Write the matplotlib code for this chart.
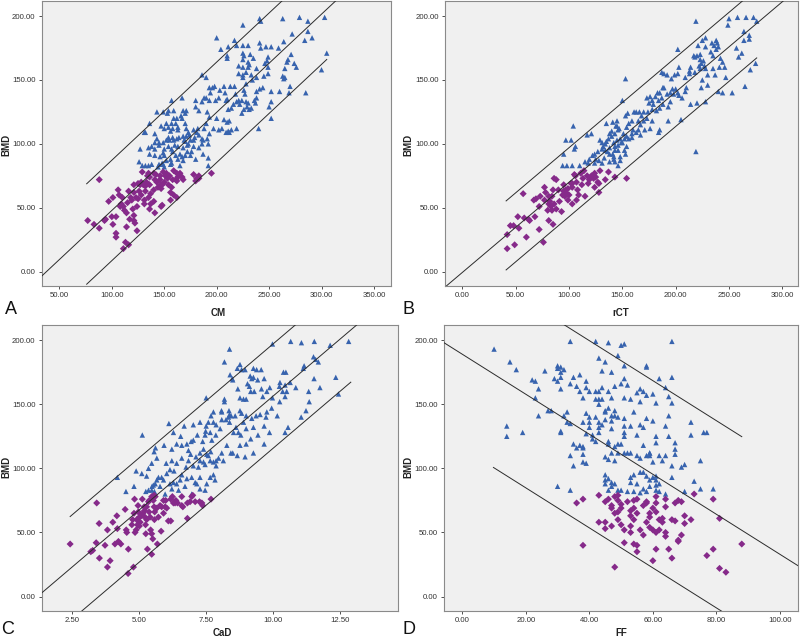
import numpy as np
import matplotlib
matplotlib.use("Agg")
import matplotlib.pyplot as plt
from matplotlib.ticker import FormatStrFormatter

plt.rcParams['font.family'] = ['Liberation Sans', 'DejaVu Sans']

# ---------------- Panel A: CM vs BMD ----------------
a_blue = [(241,198),(242,196),(225,193),(263,198),(279,199),(303,199),(287,196),(287,188),(284,181),(291,183),(272,186),(200,183),(217,181),(204,174),(211,176),(219,177),(225,177),(230,177),(241,179),(242,175),(247,176),(252,176),(259,175),(264,180),(210,169),(210,167),(225,171),(226,169),(232,170),(225,166),(230,164),(235,167),(271,170),(268,166),(267,164),(274,163),(276,160),(249,168),(248,165),(246,163),(231,162),(221,161),(225,160),(230,160),(238,159),(249,160),(228,156),(221,155),(225,154),(233,154),(225,152),(249,155),(238,152),(245,153),(265,159),(263,153),(265,152),(300,158),(305,171),(285,140),(269,140),(260,141),(270,145),(264,151),(190,152),(186,154),(196,144),(193,144),(198,145),(203,142),(194,140),(188,136),(190,136),(186,133),(193,134),(183,126),(202,136),(199,134),(210,135),(217,145),(213,145),(207,145),(208,140),(209,134),(218,139),(221,134),(224,134),(226,142),(227,139),(219,133),(222,131),(228,133),(229,129),(236,134),(238,136),(238,141),(241,143),(244,144),(252,141),(252,133),(250,129),(252,120),(240,112),(224,124),(226,127),(231,127),(233,128),(230,132),(237,132),(228,147),(234,150),(216,131),(214,128),(211,127),(207,119),(210,117),(212,118),(212,109),(209,109),(211,110),(214,111),(219,112),(205,112),(202,111),(197,112),(200,120),(191,125),(193,121),(190,116),(188,112),(182,112),(181,109),(183,107),(186,104),(187,103),(186,100),(192,100),(191,104),(193,108),(179,105),(178,103),(173,100),(169,103),(178,98),(183,97),(187,92),(192,89),(192,83),(180,88),(172,94),(170,91),(167,90),(168,87),(163,98),(160,99),(162,104),(164,105),(158,105),(158,112),(154,113),(152,116),(150,112),(159,120),(161,116),(163,111),(170,116),(171,112),(173,109),(174,107),(167,120),(166,122),(170,124),(171,126),(168,126),(162,120),(159,126),(167,136),(180,134),(180,129),(149,125),(143,125),(147,114),(157,134),(154,126),(153,124),(163,113),(154,105),(155,103),(152,103),(149,101),(145,101),(145,99),(141,101),(141,96),(141,91),(146,90),(149,93),(150,91),(156,88),(152,87),(150,82),(156,84),(158,94),(157,96),(161,91),(163,88),(165,92),(141,108),(136,92),(135,97),(138,98),(143,104),(145,84),(149,84),(131,109),(127,96),(126,86),(129,83),(132,83),(135,83),(138,84),(136,116),(132,109),(156,110),(157,116),(172,99),(168,97),(170,102),(178,111),(168,106),(159,103),(154,98),(150,96),(175,103),(171,106),(175,91),(157,85),(165,83),(176,94),(148,85),(144,82)]
a_purple = [(88,72),(77,40),(83,37),(88,34),(93,40),(94,41),(97,55),(101,58),(100,43),(101,37),(104,43),(104,30),(104,27),(106,64),(107,60),(108,51),(109,53),(111,51),(112,48),(110,58),(111,18),(113,23),(116,21),(114,35),(117,41),(114,46),(115,54),(116,63),(118,58),(119,56),(120,49),(121,44),(121,40),(122,38),(124,32),(124,51),(121,68),(121,62),(123,58),(125,69),(127,68),(126,63),(128,60),(128,70),(129,78),(131,56),(131,53),(132,63),(132,67),(133,70),(134,75),(135,58),(135,77),(136,74),(136,68),(137,61),(137,53),(140,64),(140,77),(141,72),(141,46),(142,76),(143,70),(144,66),(146,75),(146,72),(147,68),(147,65),(148,68),(149,78),(150,70),(151,75),(148,52),(152,77),(153,73),(154,68),(155,75),(157,66),(158,72),(159,79),(161,72),(162,77),(162,71),(163,74),(165,77),(167,74),(168,72),(156,56),(156,62),(162,58),(136,49),(147,51),(125,57),(178,76),(180,71),(181,73),(183,73),(183,75),(195,77),(159,60),(140,55),(130,68)]

# ---------------- Panel B: rCT vs BMD ----------------
b_blue = [(219,196),(250,198),(258,199),(266,199),(273,199),(276,196),(249,193),(264,188),(269,185),(269,182),(264,181),(257,175),(262,171),(259,168),(275,163),(270,158),(265,145),(253,140),(244,140),(240,141),(228,133),(220,132),(214,131),(205,119),(219,94),(202,174),(203,160),(228,183),(225,181),(221,177),(228,176),(234,179),(238,181),(239,179),(236,177),(240,176),(238,174),(233,172),(235,169),(242,167),(244,164),(246,160),(241,160),(235,159),(230,154),(237,154),(247,152),(225,150),(230,146),(224,144),(217,169),(220,169),(223,170),(218,168),(223,166),(226,165),(224,163),(222,161),(227,161),(223,159),(228,159),(214,160),(218,156),(213,155),(209,152),(210,144),(213,157),(202,155),(199,154),(192,154),(189,155),(187,156),(196,151),(189,144),(188,144),(185,140),(183,140),(181,137),(176,137),(173,136),(178,134),(175,132),(179,131),(184,134),(187,136),(192,139),(195,140),(197,143),(200,143),(198,139),(202,140),(203,138),(206,136),(209,141),(195,133),(193,129),(188,131),(185,128),(182,126),(178,127),(174,125),(170,125),(166,125),(168,122),(173,120),(161,125),(163,125),(155,124),(153,122),(150,134),(153,151),(159,118),(156,116),(165,118),(167,115),(170,118),(178,118),(193,118),(185,111),(184,109),(176,112),(171,111),(165,111),(163,109),(160,111),(167,107),(159,105),(154,106),(151,108),(146,111),(141,117),(145,118),(135,116),(148,104),(145,103),(149,101),(142,101),(138,108),(137,104),(140,110),(144,114),(153,92),(146,95),(143,98),(141,92),(138,92),(142,88),(136,94),(132,98),(134,100),(131,101),(148,87),(104,114),(97,103),(102,103),(106,98),(105,96),(95,92),(94,83),(98,83),(103,83),(117,107),(121,108),(110,83),(115,86),(119,88),(118,85),(122,91),(124,92),(127,94),(125,88),(124,85),(128,87),(131,85),(133,89),(129,103),(135,102),(140,106),(143,108),(147,112),(152,104),(150,101),(146,99),(143,95),(138,97),(142,90),(138,86),(143,86),(148,90),(152,95),(154,98),(134,95),(131,96),(146,83),(145,114),(154,113),(159,108),(156,104)]
b_purple = [(42,18),(42,29),(45,36),(48,36),(49,21),(52,43),(53,34),(57,61),(58,42),(60,27),(62,41),(63,40),(67,56),(69,57),(68,43),(72,33),(72,51),(73,59),(77,56),(77,66),(78,62),(80,48),(81,40),(76,23),(81,59),(81,53),(82,55),(83,51),(84,48),(84,59),(85,64),(86,73),(88,72),(86,53),(88,49),(85,37),(91,55),(93,47),(95,68),(95,63),(96,59),(97,64),(98,61),(99,65),(100,60),(103,69),(103,66),(103,53),(105,76),(106,75),(107,70),(108,64),(109,60),(111,77),(113,73),(115,59),(114,79),(117,75),(118,69),(119,72),(121,75),(123,73),(124,77),(125,74),(127,70),(124,66),(129,79),(128,62),(128,69),(137,78),(134,72),(143,74),(154,73),(102,69),(99,56),(94,60),(90,64),(112,68),(107,56)]

# ---------------- Panel C: CaD vs BMD ----------------
c_blue = [(8.38,193),(8.19,183),(8.77,181),(8.67,178),(8.83,177),(8.96,177),(9.27,178),(9.39,177),(9.56,177),(9.98,197),(10.66,199),(11.06,198),(11.54,199),(12.13,196),(12.82,199),(11.51,187),(11.59,185),(11.69,183),(11.16,180),(11.13,178),(10.39,175),(10.48,175),(10.64,167),(10.85,163),(11.53,170),(11.75,163),(12.34,171),(12.44,158),(11.33,160),(11.35,152),(11.23,145),(11.05,140),(10.56,132),(10.45,128),(10.26,167),(10.24,164),(10.45,165),(10.51,160),(10.36,160),(10.45,156),(10.25,152),(9.98,155),(9.88,163),(9.77,160),(9.57,162),(9.62,156),(9.67,170),(9.27,171),(9.15,172),(9.21,170),(9.05,166),(9.12,164),(9.17,160),(9.30,160),(9.43,169),(8.69,162),(8.48,170),(8.40,173),(8.50,169),(8.77,155),(8.90,154),(9.00,154),(8.19,154),(8.19,152),(8.08,145),(8.36,145),(8.38,142),(8.34,140),(8.25,138),(8.38,136),(8.44,141),(8.59,141),(8.77,145),(8.83,143),(9.00,141),(8.90,136),(8.62,132),(8.53,128),(8.71,128),(8.80,126),(9.00,131),(9.21,139),(9.37,141),(9.52,142),(9.77,144),(9.95,147),(10.16,141),(9.74,140),(9.67,133),(9.44,126),(9.27,132),(9.17,123),(9.00,119),(8.77,118),(8.43,112),(8.50,112),(8.67,110),(8.96,109),(9.87,128),(9.67,119),(9.27,112),(8.28,118),(8.09,112),(8.09,144),(7.78,144),(7.69,141),(7.59,136),(7.51,133),(7.28,136),(7.03,134),(6.69,133),(6.12,135),(6.29,128),(6.56,125),(6.41,119),(6.60,118),(6.79,119),(6.95,121),(7.03,122),(7.18,126),(7.38,121),(7.47,126),(7.49,129),(7.78,136),(7.88,134),(7.66,128),(8.03,131),(7.87,126),(7.72,122),(7.68,113),(7.53,111),(7.41,115),(7.28,112),(7.13,109),(7.28,106),(7.41,105),(7.66,106),(7.78,105),(7.88,106),(7.97,108),(8.15,106),(7.88,102),(7.59,110),(7.47,103),(7.22,101),(7.03,102),(6.85,106),(6.76,101),(6.60,108),(6.41,104),(6.23,106),(6.16,99),(6.31,98),(6.02,104),(6.85,114),(6.93,111),(6.23,115),(5.94,118),(7.51,155),(8.09,138),(4.20,93),(5.13,126),(4.90,98),(5.11,96),(4.82,86),(4.52,82),(5.29,94),(5.36,100),(5.48,104),(5.57,113),(5.62,116),(5.67,108),(5.58,82),(5.36,83),(5.48,83),(5.49,86),(5.54,87),(5.61,88),(5.67,91),(5.73,93),(5.26,82),(5.79,86),(5.85,93),(5.92,91),(6.04,96),(6.16,88),(6.23,84),(6.29,89),(6.41,88),(6.54,91),(6.60,95),(6.72,86),(6.79,92),(6.97,93),(7.10,89),(7.16,88),(7.28,93),(7.53,88),(7.66,93),(7.78,95),(7.84,91),(7.47,83),(7.28,84),(6.97,80),(6.48,83),(5.98,80)]
c_purple = [(2.44,41),(3.43,73),(3.52,57),(3.41,42),(3.28,36),(3.21,35),(3.53,30),(3.83,52),(3.83,23),(3.93,28),(3.74,40),(4.03,58),(4.11,41),(4.18,63),(4.20,53),(4.24,43),(4.33,41),(4.49,68),(4.53,52),(4.55,50),(4.61,37),(4.74,56),(4.77,60),(4.80,23),(4.60,18),(4.84,76),(4.82,65),(4.86,50),(4.90,52),(4.92,60),(4.95,56),(4.97,71),(4.98,66),(5.02,62),(5.02,55),(5.05,58),(5.11,63),(5.13,76),(5.15,65),(5.20,70),(5.21,67),(5.23,62),(5.25,56),(5.26,49),(5.29,60),(5.29,70),(5.32,37),(5.36,74),(5.38,66),(5.39,75),(5.42,62),(5.44,52),(5.48,78),(5.48,49),(5.52,45),(5.54,75),(5.57,79),(5.57,70),(5.58,60),(5.59,66),(5.61,78),(5.67,69),(5.69,41),(5.73,62),(5.79,71),(5.83,51),(5.92,75),(5.92,65),(5.98,70),(6.00,75),(6.04,69),(6.10,59),(6.19,76),(6.25,78),(6.29,73),(6.35,73),(6.38,75),(6.44,73),(6.60,78),(6.60,71),(6.64,70),(6.81,73),(6.91,74),(6.97,78),(7.01,79),(7.10,74),(7.26,74),(7.35,73),(7.38,71),(7.69,76),(6.81,61),(6.19,59),(5.85,70),(5.48,33)]

# ---------------- Panel D: FF vs BMD ----------------
d_blue = [(10,193),(15,183),(17,177),(34,199),(42,199),(46,198),(50,196),(51,197),(66,199),(43,186),(45,183),(49,188),(51,180),(58,180),(58,179),(26,176),(30,180),(30,178),(31,179),(32,177),(31,175),(31,171),(29,170),(30,168),(22,169),(23,168),(24,162),(31,162),(23,155),(37,173),(35,171),(39,168),(34,166),(36,164),(39,163),(37,160),(38,155),(40,160),(42,160),(43,160),(42,154),(43,154),(44,154),(43,150),(44,163),(46,160),(47,155),(48,164),(50,166),(51,170),(52,165),(44,176),(47,175),(46,147),(45,145),(48,145),(48,141),(49,140),(51,155),(53,154),(54,144),(51,139),(55,159),(56,162),(57,160),(58,157),(56,152),(60,158),(61,151),(65,156),(66,151),(65,141),(62,170),(66,171),(64,163),(58,139),(60,137),(56,134),(57,132),(53,133),(51,133),(51,128),(51,125),(55,126),(61,125),(64,133),(65,125),(67,120),(67,115),(72,136),(72,126),(76,128),(77,128),(61,120),(59,112),(57,118),(53,112),(51,112),(49,119),(48,117),(46,121),(46,119),(42,121),(41,123),(39,127),(38,117),(37,118),(35,119),(31,129),(33,144),(34,135),(38,136),(39,143),(40,140),(40,136),(40,132),(42,140),(43,136),(44,134),(43,132),(45,144),(47,141),(47,137),(47,131),(45,138),(41,126),(43,128),(33,136),(32,141),(31,128),(27,145),(28,145),(24,141),(14,133),(14,125),(19,128),(36,116),(34,110),(38,116),(38,111),(38,105),(39,104),(35,102),(30,86),(34,83),(45,109),(46,107),(48,106),(47,112),(50,119),(49,112),(52,112),(55,110),(56,108),(58,110),(59,110),(59,112),(60,105),(62,110),(63,106),(64,110),(66,102),(67,111),(69,101),(70,103),(45,95),(46,92),(45,91),(47,89),(45,88),(47,86),(48,88),(46,83),(49,83),(50,83),(52,82),(53,89),(53,93),(54,95),(56,97),(57,97),(58,94),(59,91),(60,93),(61,91),(61,94),(62,88),(61,87),(59,86),(58,82),(57,84),(55,88),(56,81),(54,82),(61,83),(62,82),(64,80),(66,93),(70,82),(73,90),(75,106),(79,84),(75,84)]
d_purple = [(36,73),(38,76),(43,79),(46,76),(47,71),(47,69),(48,78),(49,79),(49,75),(50,72),(52,74),(50,69),(49,66),(53,67),(54,75),(55,76),(54,69),(55,65),(53,63),(58,73),(58,74),(57,71),(60,69),(61,73),(61,78),(61,66),(59,65),(59,62),(62,60),(63,61),(63,58),(64,70),(64,76),(67,73),(68,75),(69,74),(70,63),(72,60),(70,57),(67,59),(66,60),(43,58),(45,58),(45,53),(47,55),(49,60),(50,56),(51,52),(53,50),(53,55),(56,52),(60,52),(61,50),(62,52),(64,50),(64,47),(68,44),(68,43),(69,48),(51,42),(54,41),(55,40),(55,35),(61,37),(65,37),(66,30),(60,28),(48,23),(38,40),(73,80),(79,76),(81,61),(77,32),(79,37),(81,22),(83,19),(88,41),(45,74),(48,65),(54,60),(58,58),(59,54),(57,48)]

# fitted regression line and prediction band (slope, intercept, half-width, x-range)
fit_a = (0.768, -28.9, 39.3, 76, 305)
fit_b = (0.706, -0.6, 27.0, 41, 276)
fit_c = (17.8, -21.7, 40.7, 2.44, 12.9)
fit_d = (-1.56, 189.0, 73.0, 9.8, 88)

panels = [
    dict(letter="A", xlabel="CM", blue=a_blue, purple=a_purple, fit=fit_a,
         xlim=(33.1, 366), xstep=50, xmin_tick=50, xmax_tick=350,
         px=(41.7, 1, 390.7, 285.7), lpos=(11, 310), xlpos=(218, 313), ylpos=(6, 145)),
    dict(letter="B", xlabel="rCT", blue=b_blue, purple=b_purple, fit=fit_b,
         xlim=(-16.3, 315), xstep=50, xmin_tick=0, xmax_tick=300,
         px=(445, 1, 798.3, 285.7), lpos=(409, 310), xlpos=(621, 313), ylpos=(408, 145)),
    dict(letter="C", xlabel="CaD", blue=c_blue, purple=c_purple, fit=fit_c,
         xlim=(1.38, 14.67), xstep=2.5, xmin_tick=2.5, xmax_tick=12.5,
         px=(41.7, 325, 398.3, 610.7), lpos=(8, 630), xlpos=(222, 633), ylpos=(6, 467)),
    dict(letter="D", xlabel="FF", blue=d_blue, purple=d_purple, fit=fit_d,
         xlim=(-5.67, 105.8), xstep=20, xmin_tick=0, xmax_tick=100,
         px=(444.3, 325, 798.3, 610.7), lpos=(409, 630), xlpos=(621, 633), ylpos=(408, 467)),
]

W, H = 800, 640
fig = plt.figure(figsize=(8, 6.4), dpi=100)
blue_c = '#3763ae'
purple_c = '#862a8a'

for p in panels:
    l, t, r, b = p['px']
    ax = fig.add_axes([l / W, 1 - b / H, (r - l) / W, (b - t) / H])
    ax.set_facecolor('#f0f0f0')
    bx, by = zip(*p['blue'])
    qx, qy = zip(*p['purple'])
    ax.scatter(bx, by, marker='^', s=15, color=blue_c, edgecolors='none', zorder=3)
    ax.scatter(qx, qy, marker='D', s=13, color=purple_c, edgecolors='none', zorder=3)
    m, c0, hw, x0, x1 = p['fit']
    ax.axline((0, c0), slope=m, color='#2b2b2b', lw=0.7, zorder=4)
    xs = np.array([x0, x1])
    ax.plot(xs, m * xs + c0 + hw, color='#2b2b2b', lw=0.7, zorder=4)
    ax.plot(xs, m * xs + c0 - hw, color='#2b2b2b', lw=0.7, zorder=4)
    ax.set_xlim(*p['xlim'])
    ax.set_ylim(-11, 211.8)
    ax.set_xticks(np.arange(p['xmin_tick'], p['xmax_tick'] + 1e-9, p['xstep']))
    ax.set_yticks(np.arange(0, 201, 50))
    ax.xaxis.set_major_formatter(FormatStrFormatter('%.2f'))
    ax.yaxis.set_major_formatter(FormatStrFormatter('%.2f'))
    ax.tick_params(labelsize=5.6, length=2.5, width=0.6, colors='#333333', pad=2)
    for sp in ax.spines.values():
        sp.set_color('#8a8a8a')
        sp.set_linewidth(0.8)
    fig.text(p['lpos'][0] / W, 1 - p['lpos'][1] / H, p['letter'], fontsize=13,
             ha='center', va='center', color='#111111')
    fig.text(p['xlpos'][0] / W, 1 - p['xlpos'][1] / H, p['xlabel'], fontsize=7,
             fontweight='bold', ha='center', va='center', color='#222222')
    fig.text(p['ylpos'][0] / W, 1 - p['ylpos'][1] / H, 'BMD', fontsize=7,
             fontweight='bold', ha='center', va='center', rotation=90, color='#222222')

fig.savefig('out.png', dpi=100, facecolor='white')
